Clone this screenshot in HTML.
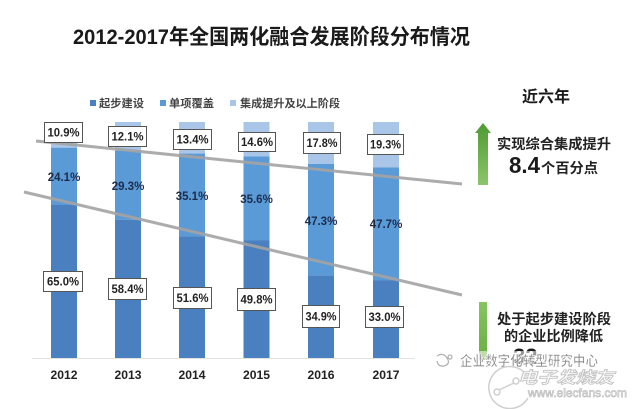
<!DOCTYPE html>
<html>
<head>
<meta charset="utf-8">
<style>
  html,body{margin:0;padding:0;background:#fff;}
  body{width:635px;height:409px;overflow:hidden;}
  svg{display:block;}
  text{font-family:"Liberation Sans","Noto Sans CJK SC",sans-serif;}
</style>
</head>
<body>
<svg width="635" height="409" viewBox="0 0 635 409" xmlns="http://www.w3.org/2000/svg">
  <defs>
    <linearGradient id="gUp" x1="0" y1="0" x2="0" y2="1">
      <stop offset="0" stop-color="#4f9a34"/>
      <stop offset="1" stop-color="#8cc46c"/>
    </linearGradient>
    <linearGradient id="gDn" x1="0" y1="0" x2="0" y2="1">
      <stop offset="0" stop-color="#86c460"/>
      <stop offset="1" stop-color="#6aae40"/>
    </linearGradient>
  </defs>
  <rect width="635" height="409" fill="#fff"/>

  <!-- Title -->
  <text x="73" y="44" font-size="21" font-weight="bold" fill="#1a1a1a" textLength="397" lengthAdjust="spacingAndGlyphs">2012-2017年全国两化融合发展阶段分布情况</text>

  <!-- Legend -->
  <rect x="90" y="100" width="6" height="6" fill="#4a7fc0"/>
  <text x="99" y="107" font-size="11" font-weight="bold" fill="#444" textLength="45" lengthAdjust="spacingAndGlyphs">起步建设</text>
  <rect x="160" y="100" width="6" height="6" fill="#5a9ad6"/>
  <text x="169" y="107" font-size="11" font-weight="bold" fill="#444" textLength="45" lengthAdjust="spacingAndGlyphs">单项覆盖</text>
  <rect x="230" y="100" width="6" height="6" fill="#a9c6e8"/>
  <text x="240" y="107" font-size="11" font-weight="bold" fill="#444" textLength="100" lengthAdjust="spacingAndGlyphs">集成提升及以上阶段</text>

  <!-- Baseline -->
  <line x1="32" y1="358.5" x2="415" y2="358.5" stroke="#e2e2e2" stroke-width="1"/>

  <!-- Bars: light / mid / dark -->
  <g>
    <rect x="51" y="122" width="26" height="25.7" fill="#a9c6e8"/>
    <rect x="51" y="147.7" width="26" height="56.9" fill="#5a9ad6"/>
    <rect x="51" y="204.6" width="26" height="153.4" fill="#4a7fc0"/>

    <rect x="115" y="122" width="26" height="28.6" fill="#a9c6e8"/>
    <rect x="115" y="150.6" width="26" height="69.1" fill="#5a9ad6"/>
    <rect x="115" y="219.7" width="26" height="138.3" fill="#4a7fc0"/>

    <rect x="179" y="122" width="26" height="31.6" fill="#a9c6e8"/>
    <rect x="179" y="153.6" width="26" height="82.8" fill="#5a9ad6"/>
    <rect x="179" y="236.4" width="26" height="121.6" fill="#4a7fc0"/>

    <rect x="243.5" y="122" width="26" height="34.5" fill="#a9c6e8"/>
    <rect x="243.5" y="156.5" width="26" height="84" fill="#5a9ad6"/>
    <rect x="243.5" y="240.5" width="26" height="117.5" fill="#4a7fc0"/>

    <rect x="308" y="122" width="26" height="42" fill="#a9c6e8"/>
    <rect x="308" y="164" width="26" height="111.6" fill="#5a9ad6"/>
    <rect x="308" y="275.6" width="26" height="82.4" fill="#4a7fc0"/>

    <rect x="373" y="122" width="26" height="45.5" fill="#a9c6e8"/>
    <rect x="373" y="167.5" width="26" height="112.6" fill="#5a9ad6"/>
    <rect x="373" y="280.1" width="26" height="77.9" fill="#4a7fc0"/>
  </g>

  <!-- Trend lines -->
  <line x1="36" y1="141" x2="462" y2="184" stroke="#a3a3a3" stroke-width="3" stroke-opacity="0.9"/>
  <line x1="24" y1="192" x2="462" y2="295" stroke="#a3a3a3" stroke-width="3" stroke-opacity="0.9"/>

  <!-- Middle labels -->
  <g font-size="11.5" font-weight="bold" fill="#1c2c4c" text-anchor="middle">
    <text x="64" y="181">24.1%</text>
    <text x="128" y="190">29.3%</text>
    <text x="192" y="200">35.1%</text>
    <text x="256.5" y="203">35.6%</text>
    <text x="321" y="225">47.3%</text>
    <text x="386" y="228">47.7%</text>
  </g>

  <!-- Boxes -->
  <g fill="#fff" stroke="#555" stroke-width="1">
    <rect x="44.5" y="122.5" width="38" height="20"/>
    <rect x="108.5" y="126.5" width="38" height="20"/>
    <rect x="173.5" y="129.5" width="38" height="20"/>
    <rect x="238.5" y="132.5" width="37" height="19"/>
    <rect x="303.5" y="132.5" width="37" height="21"/>
    <rect x="367.5" y="134.5" width="36" height="20"/>
    <rect x="43.5" y="271.5" width="39" height="20"/>
    <rect x="108.5" y="278.5" width="38" height="21"/>
    <rect x="173.5" y="287.5" width="38" height="21"/>
    <rect x="237.5" y="288.5" width="38" height="22"/>
    <rect x="302.5" y="305.5" width="37" height="22"/>
    <rect x="365.5" y="306.5" width="38" height="21"/>
  </g>
  <g font-size="11.5" font-weight="bold" fill="#222" text-anchor="middle">
    <text x="63.5" y="136.5" textLength="32" lengthAdjust="spacingAndGlyphs">10.9%</text>
    <text x="127.5" y="140.5" textLength="32" lengthAdjust="spacingAndGlyphs">12.1%</text>
    <text x="192.5" y="143.5" textLength="32" lengthAdjust="spacingAndGlyphs">13.4%</text>
    <text x="257" y="146" textLength="32" lengthAdjust="spacingAndGlyphs">14.6%</text>
    <text x="322" y="147" textLength="31" lengthAdjust="spacingAndGlyphs">17.8%</text>
    <text x="385.5" y="148.5" textLength="31" lengthAdjust="spacingAndGlyphs">19.3%</text>

    <text x="63" y="285.5" textLength="32" lengthAdjust="spacingAndGlyphs">65.0%</text>
    <text x="127.5" y="293" textLength="32" lengthAdjust="spacingAndGlyphs">58.4%</text>
    <text x="192.5" y="302" textLength="32" lengthAdjust="spacingAndGlyphs">51.6%</text>
    <text x="256.5" y="303.5" textLength="32" lengthAdjust="spacingAndGlyphs">49.8%</text>
    <text x="321" y="320.5" textLength="31" lengthAdjust="spacingAndGlyphs">34.9%</text>
    <text x="384.5" y="321" textLength="32" lengthAdjust="spacingAndGlyphs">33.0%</text>
  </g>

  <!-- Year labels -->
  <g font-size="12" font-weight="bold" fill="#222" text-anchor="middle">
    <text x="64" y="379" textLength="27" lengthAdjust="spacingAndGlyphs">2012</text>
    <text x="128" y="379" textLength="27" lengthAdjust="spacingAndGlyphs">2013</text>
    <text x="192" y="379" textLength="27" lengthAdjust="spacingAndGlyphs">2014</text>
    <text x="256.5" y="379" textLength="27" lengthAdjust="spacingAndGlyphs">2015</text>
    <text x="321" y="379" textLength="27" lengthAdjust="spacingAndGlyphs">2016</text>
    <text x="386" y="379" textLength="27" lengthAdjust="spacingAndGlyphs">2017</text>
  </g>

  <!-- Right annotations -->
  <text x="522" y="102" font-size="16" font-weight="bold" fill="#1a1a1a" textLength="48" lengthAdjust="spacingAndGlyphs">近六年</text>

  <polygon points="483,123 491,133 488,133 488,185 478,185 478,133 475,133" fill="url(#gUp)"/>
  <text x="497" y="149" font-size="14" font-weight="bold" fill="#222" textLength="114" lengthAdjust="spacingAndGlyphs">实现综合集成提升</text>
  <text x="509" y="173" font-size="23" font-weight="bold" fill="#1a1a1a" textLength="31" lengthAdjust="spacingAndGlyphs">8.4</text>
  <text x="541" y="173" font-size="14" font-weight="bold" fill="#222" textLength="57" lengthAdjust="spacingAndGlyphs">个百分点</text>

  <rect x="479" y="302" width="8" height="58" fill="url(#gDn)"/>
  <text x="497" y="324" font-size="14" font-weight="bold" fill="#222" textLength="114" lengthAdjust="spacingAndGlyphs">处于起步建设阶段</text>
  <text x="504" y="341" font-size="14" font-weight="bold" fill="#222" textLength="99" lengthAdjust="spacingAndGlyphs">的企业比例降低</text>
  <text x="513" y="364" font-size="22" font-weight="bold" fill="#1a1a1a">32</text>

  <!-- Watermark -->
  <rect x="430" y="351" width="175" height="18" fill="#fff" fill-opacity="0.55"/>
  <g fill="none" stroke="#b0b0b0" stroke-width="1.2">
    <path d="M437,356 q6,-4 10,2 q4,6 -3,8 q-6,1 -7,-5"/>
    <circle cx="450" cy="357" r="2"/>
  </g>
  <text x="460" y="366" font-size="14" font-weight="bold" fill="#8e8e8e" stroke="#fff" stroke-width="0.6" textLength="138" lengthAdjust="spacingAndGlyphs">企业数字化转型研究中心</text>

  <g fill="none" stroke="#cfcfcf" stroke-width="1.5">
    <path d="M524,372 A21,21 0 1,0 528,398"/>
    <circle cx="497" cy="392" r="3"/>
    <circle cx="516" cy="381" r="3"/>
    <line x1="499" y1="390" x2="514" y2="383"/>
  </g>
  <text x="518" y="383" font-size="16" font-weight="bold" font-style="italic" fill="#fff" stroke="#c4c4c4" stroke-width="0.9" textLength="96" lengthAdjust="spacingAndGlyphs">电子发烧友</text>
  <text x="528" y="397" font-size="12" fill="#fff" stroke="#bdbdbd" stroke-width="0.7" textLength="99" lengthAdjust="spacingAndGlyphs">www.elecfans.com</text>
</svg>
</body>
</html>
